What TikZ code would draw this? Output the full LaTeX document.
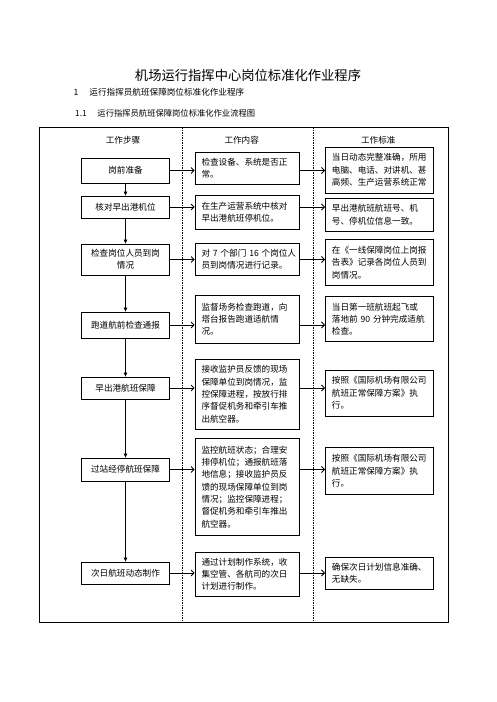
\documentclass[tikz,border=0pt]{standalone}
\usepackage{fontspec}
\setmainfont{Noto Sans CJK SC}
\usepackage{tikz}
\usetikzlibrary{arrows.meta}
\tikzset{
 boxtext/.style={font=\fontsize{8.6}{12.3}\selectfont},
 stepbox/.style={boxtext,draw,line width=0.8pt,fill=white,minimum width=88pt,align=center,inner sep=2pt},
 workbox/.style={boxtext,draw,line width=0.8pt,fill=white,text width=91pt,align=left,inner xsep=6.5pt,inner ysep=2pt},
 normbox/.style={boxtext,draw,line width=0.8pt,fill=white,text width=94.5pt,align=left,inner xsep=6.5pt,inner ysep=2pt},
 headtext/.style={boxtext,inner sep=0pt},
 flowarrow/.style={line width=0.8pt,-{Triangle[length=4pt,width=3.5pt]}},
 sidearrow/.style={line width=0.8pt,-{Straight Barb[length=3pt,width=6pt]}},
 lanesep/.style={line width=0.6pt,dash pattern=on 1.5pt off 1pt},
}
\begin{document}
\begin{tikzpicture}[x=1pt,y=-1pt]
 \useasboundingbox (0,0) rectangle (496,702);
 \node[inner sep=0pt,font=\fontsize{13.3}{16}\selectfont] (title) at (248,75) {机场运行指挥中心岗位标准化作业程序};
 \node[headtext,anchor=west] (sec1) at (73.3,92.3) {\makebox[16pt][l]{1}运行指挥员航班保障岗位标准化作业程序};
 \node[headtext,anchor=west,font=\fontsize{8.3}{10}\selectfont] (sec11) at (75,113.3) {\makebox[22.3pt][l]{1.1}运行指挥员航班保障岗位标准化作业流程图};

 \coordinate (frametl) at (39.3,127.3);
 \coordinate (framebr) at (448,622.3);
 \draw[line width=0.8pt] (frametl) rectangle (framebr);
 \draw[lanesep] (182,127.3) -- (182,622.3);
 \draw[lanesep] (313.5,127.3) -- (313.5,622.3);

 \node[headtext] (head1) at (123,140.5) {工作步骤};
 \node[headtext] (head2) at (241.7,140.5) {工作内容};
 \node[headtext] (head3) at (378.3,140.5) {工作标准};

 \node[stepbox,minimum height=25pt] (b1) at (125.5,170.5) {岗前准备};
 \node[stepbox,minimum height=22pt] (b2) at (125.5,207) {核对早出港机位};
 \node[stepbox,minimum height=31pt] (b3) at (125.5,259.5) {检查岗位人员到岗\\情况};
 \node[stepbox,minimum height=26pt] (b4) at (125.5,325) {跑道航前检查通报};
 \node[stepbox,minimum height=22pt] (b5) at (125.5,388) {早出港航班保障};
 \node[stepbox,minimum height=23pt] (b6) at (125.5,469.5) {过站经停航班保障};
 \node[stepbox,minimum height=22pt] (b7) at (125.5,573) {次日航班动态制作};

 \node[workbox,minimum height=32pt] (m1) at (247,168.3) {检查设备、系统是否正\\常。};
 \node[workbox,minimum height=34.3pt] (m2) at (247,212.2) {在生产运营系统中核对\\早出港航班停机位。};
 \node[workbox,minimum height=31.7pt] (m3) at (247,259.2) {\mbox{对 7 个部门 16 个岗位人}\\员到岗情况进行记录。};
 \node[workbox,minimum height=48.3pt] (m4) at (247,319.2) {监督场务检查跑道，向\\塔台报告跑道适航情\\况。};
 \node[workbox,minimum height=69.7pt] (m5) at (247,394.2) {接收监护员反馈的现场\\保障单位到岗情况，监\\控保障进程，按放行排\\序督促机务和牵引车推\\出航空器。};
 \node[workbox,minimum height=97.4pt] (m6) at (247,487) {监控航班状态；合理安\\排停机位；通报航班落\\地信息；接收监护员反\\馈的现场保障单位到岗\\情况；监控保障进程；\\督促机务和牵引车推出\\航空器。};
 \node[workbox,minimum height=43.7pt] (m7) at (247,574.2) {通过计划制作系统，收\\集空管、各航司的次日\\计划进行制作。};

 \node[normbox,minimum height=46pt] (r1) at (379.2,170) {当日动态完整准确，所用\\电脑、电话、对讲机、甚\\高频、生产运营系统正常};
 \node[normbox,minimum height=32.7pt] (r2) at (379.2,214.7) {早出港航班航班号、机\\号、停机位信息一致。};
 \node[normbox,minimum height=46.4pt] (r3) at (379.2,262.5) {在《一线保障岗位上岗报\\告表》记录各岗位人员到\\岗情况。};
 \node[normbox,minimum height=45pt] (r4) at (379.2,319.2) {当日第一班航班起飞或\\\mbox{落地前 90 分钟完成适航}\\检查。};
 \node[normbox,minimum height=46pt] (r5) at (379.2,393) {按照《国际机场有限公司\\航班正常保障方案》执\\行。};
 \node[normbox,minimum height=47pt] (r6) at (379.2,470.8) {按照《国际机场有限公司\\航班正常保障方案》执\\行。};
 \node[normbox,minimum height=32pt] (r7) at (379.2,573.3) {确保次日计划信息准确、\\无缺失。};

 \draw[flowarrow] (b1) -- (b2);
 \draw[flowarrow] (b2) -- (b3);
 \draw[flowarrow] (b3) -- (b4);
 \draw[flowarrow] (b4) -- (b5);
 \draw[flowarrow] (b5) -- (b6);
 \draw[flowarrow] (b6) -- (b7);

 \draw[sidearrow] (b1.east) -- (b1.east -| m1.west);
 \draw[sidearrow] (b1.east -| m1.east) -- (b1.east -| r1.west);
 \draw[sidearrow] (b2.east) -- (b2.east -| m2.west);
 \draw[sidearrow] (b2.east -| m2.east) -- (b2.east -| r2.west);
 \draw[sidearrow] (b3.east) -- (b3.east -| m3.west);
 \draw[sidearrow] (b3.east -| m3.east) -- (b3.east -| r3.west);
 \draw[sidearrow] (b4.east) -- (b4.east -| m4.west);
 \draw[sidearrow] (b4.east -| m4.east) -- (b4.east -| r4.west);
 \draw[sidearrow] (b5.east) -- (b5.east -| m5.west);
 \draw[sidearrow] (b5.east -| m5.east) -- (b5.east -| r5.west);
 \draw[sidearrow] (b6.east) -- (b6.east -| m6.west);
 \draw[sidearrow] (b6.east -| m6.east) -- (b6.east -| r6.west);
 \draw[sidearrow] (b7.east) -- (b7.east -| m7.west);
 \draw[sidearrow] (b7.east -| m7.east) -- (b7.east -| r7.west);
\end{tikzpicture}
\end{document}
